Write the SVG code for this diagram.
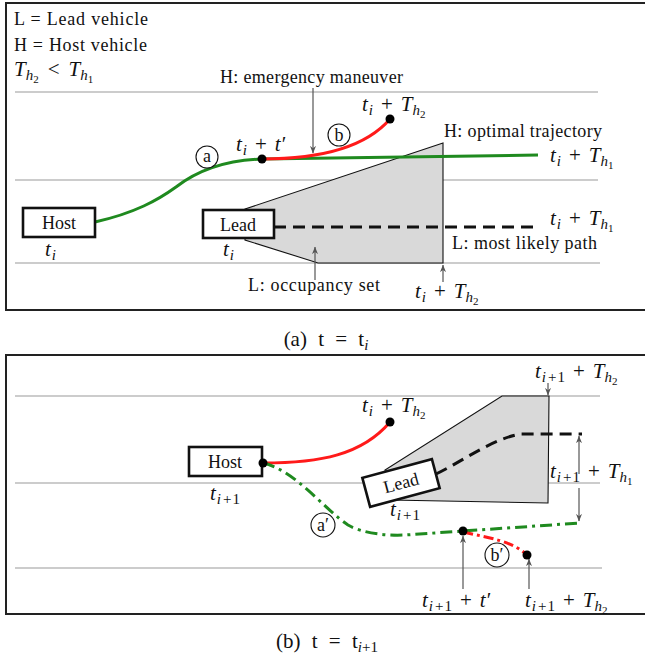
<svg xmlns="http://www.w3.org/2000/svg" width="645" height="660" viewBox="0 0 645 660">
<style>
.bg{fill:#fff}
.frame{fill:none;stroke:#222;stroke-width:2}
.lane{stroke:#9a9a9a;stroke-width:1.2;fill:none}
.occ{fill:#d9d9d9;stroke:#111;stroke-width:1.1}
.box{fill:#fff;stroke:#111;stroke-width:2.6}
.txt{font-family:"Liberation Serif","Times New Roman",serif;font-size:18px;fill:#111}
.m{font-family:"Liberation Serif","Times New Roman",serif;font-size:21px;fill:#111}
.i{font-style:italic}
.s{font-size:15px}
.ss{font-size:11px}
.cap{font-family:"Liberation Serif","Times New Roman",serif;font-size:21px;fill:#111;word-spacing:6px}
.green{fill:none;stroke:#1f8a1f;stroke-width:3}
.red{fill:none;stroke:#ff1a1a;stroke-width:3}
.gdash{fill:none;stroke:#1f8a1f;stroke-width:3;stroke-dasharray:12 5 3 5}
.rdash{fill:none;stroke:#ff1a1a;stroke-width:3;stroke-dasharray:10 4 3 4}
.bdash{fill:none;stroke:#111;stroke-width:3;stroke-dasharray:12 7}
.arrow{stroke:#555;stroke-width:1.2;fill:none;marker-end:url(#ah)}
.dot{fill:#000}
.circ{fill:#fff;stroke:#111;stroke-width:1.1}
</style>
<defs>
<marker id="ah" viewBox="0 0 10 8" refX="9.5" refY="4" markerWidth="8" markerHeight="6" markerUnits="userSpaceOnUse" orient="auto">
<path d="M0,0 L10,4 L0,8 L3,4 z" fill="#555"/>
</marker>
</defs>
<rect class="bg" x="0" y="0" width="645" height="660"/>

<!-- Panel (a) -->
<g id="panel-a">
<rect class="frame" x="6" y="3" width="650" height="307"/>
<line class="lane" x1="15" y1="92" x2="598" y2="92"/>
<line class="lane" x1="15" y1="180" x2="598" y2="180"/>
<line class="lane" x1="15" y1="263" x2="600" y2="263"/>
</g>

<g id="legend">
<text class="txt" x="14" y="25" textLength="134" lengthAdjust="spacing">L = Lead vehicle</text>
<text class="txt" x="14" y="51" textLength="133" lengthAdjust="spacing">H = Host vehicle</text>
<text class="m" x="14" y="76"><tspan class="i">T</tspan><tspan class="i s" dy="4">h</tspan><tspan class="ss" dy="3">2</tspan><tspan dx="9" dy="-7">&lt;</tspan><tspan class="i" dx="9">T</tspan><tspan class="i s" dy="4">h</tspan><tspan class="ss" dy="3">1</tspan></text>
</g>

<g id="occupancy-a">
<polygon class="occ" points="245,209 443,143 443,263 318,263 245,240"/>
</g>

<g id="connectors-a">
<path id="optimal-a" class="green" d="M95,222 C135,213 158,200 176,187 C198,170 228,160 262,159 L538,155"/>
<path id="emergency-a" class="red" d="M262,159 C320,159 365,148 390,119"/>
<path id="lead-path-a" class="bdash" d="M274,227 L538,227"/>
<line class="arrow" x1="313" y1="88" x2="313" y2="153"/>
<line class="arrow" x1="315" y1="280" x2="315" y2="247"/>
<line class="arrow" x1="443" y1="282" x2="443" y2="265"/>
</g>

<g id="host-a">
<rect class="box" x="23" y="208" width="72" height="29"/>
<text class="txt" x="59" y="229" text-anchor="middle">Host</text>
<text class="m" x="45" y="256"><tspan class="i">t</tspan><tspan class="i s" dx="1" dy="4">i</tspan></text>
</g>

<g id="lead-a">
<rect class="box" x="203" y="210" width="71" height="28"/>
<text class="txt" x="238" y="231" text-anchor="middle">Lead</text>
<text class="m" x="223" y="256"><tspan class="i">t</tspan><tspan class="i s" dx="1" dy="4">i</tspan></text>
</g>

<g id="points-a">
<circle class="dot" cx="262" cy="159" r="4.5"/>
<circle class="dot" cx="390" cy="119" r="4.5"/>
<circle class="circ" cx="207" cy="157" r="11"/>
<text class="txt" x="207" y="162" text-anchor="middle" font-size="16">a</text>
<circle class="circ" cx="339" cy="135" r="11"/>
<text class="txt" x="339" y="141" text-anchor="middle" font-size="16">b</text>
</g>

<g id="labels-a">
<text class="txt" x="220" y="83" textLength="183" lengthAdjust="spacing">H: emergency maneuver</text>
<text class="txt" x="444" y="137" textLength="158" lengthAdjust="spacing">H: optimal trajectory</text>
<text class="txt" x="452" y="249" textLength="145" lengthAdjust="spacing">L: most likely path</text>
<text class="txt" x="248" y="291" textLength="132" lengthAdjust="spacing">L: occupancy set</text>
<text class="m" x="236" y="151"><tspan class="i">t</tspan><tspan class="i s" dx="1" dy="4">i</tspan><tspan dx="8" dy="-4">+</tspan><tspan class="i" dx="8">t</tspan><tspan dx="1">′</tspan></text>
<text class="m" x="362" y="111"><tspan class="i">t</tspan><tspan class="i s" dx="1" dy="4">i</tspan><tspan dx="8" dy="-4">+</tspan><tspan class="i" dx="8">T</tspan><tspan class="i s" dy="4">h</tspan><tspan class="ss" dy="3">2</tspan></text>
<text class="m" x="550" y="162"><tspan class="i">t</tspan><tspan class="i s" dx="1" dy="4">i</tspan><tspan dx="8" dy="-4">+</tspan><tspan class="i" dx="8">T</tspan><tspan class="i s" dy="4">h</tspan><tspan class="ss" dy="3">1</tspan></text>
<text class="m" x="550" y="225"><tspan class="i">t</tspan><tspan class="i s" dx="1" dy="4">i</tspan><tspan dx="8" dy="-4">+</tspan><tspan class="i" dx="8">T</tspan><tspan class="i s" dy="4">h</tspan><tspan class="ss" dy="3">1</tspan></text>
<text class="m" x="415" y="298"><tspan class="i">t</tspan><tspan class="i s" dx="1" dy="4">i</tspan><tspan dx="8" dy="-4">+</tspan><tspan class="i" dx="8">T</tspan><tspan class="i s" dy="4">h</tspan><tspan class="ss" dy="3">2</tspan></text>
</g>

<text id="caption-a" class="cap" x="326" y="346" text-anchor="middle">(a) t = t<tspan class="i" font-size="15" dy="4">i</tspan></text>

<!-- Panel (b) -->
<g id="panel-b">
<rect class="frame" x="6" y="355" width="650" height="259"/>
<line class="lane" x1="15" y1="396" x2="600" y2="396"/>
<line class="lane" x1="15" y1="483" x2="600" y2="483"/>
<line class="lane" x1="15" y1="568" x2="602" y2="568"/>
</g>

<g id="occupancy-b">
<polygon class="occ" points="502,396 549,396 548,503 390,500 385,470"/>
</g>

<g id="connectors-b">
<path id="emergency-old-b" class="red" d="M263,463 C320,463 362,455 390,422"/>
<path id="optimal-b" class="gdash" d="M263,463 C295,470 325,510 348,525 C362,533 385,536 405,535 L580,523"/>
<path id="emergency-b" class="rdash" d="M463,532 C490,538 512,541 527,555"/>
<path id="lead-path-b" class="bdash" d="M436,474 C465,460 490,440 520,434 L582,434"/>
<line class="arrow" x1="548" y1="383" x2="548" y2="395"/>
<line class="arrow" x1="579" y1="474" x2="579" y2="436"/>
<line class="arrow" x1="579" y1="488" x2="579" y2="521"/>
<line class="arrow" x1="463" y1="589" x2="463" y2="536"/>
<line class="arrow" x1="529" y1="589" x2="529" y2="559"/>
</g>

<g id="host-b">
<rect class="box" x="189" y="447" width="73" height="29"/>
<text class="txt" x="225" y="468" text-anchor="middle">Host</text>
<text class="m" x="210" y="500"><tspan class="i">t</tspan><tspan class="s" dx="1" dy="4"><tspan class="i">i</tspan><tspan dx="2">+</tspan><tspan dx="1">1</tspan></tspan></text>
</g>

<g id="lead-b">
<g transform="translate(401,483) rotate(-15)">
<rect class="box" x="-36" y="-15" width="72" height="30"/>
<text class="txt" x="0" y="6" text-anchor="middle">Lead</text>
</g>
<text class="m" x="390" y="516"><tspan class="i">t</tspan><tspan class="s" dx="1" dy="4"><tspan class="i">i</tspan><tspan dx="2">+</tspan><tspan dx="1">1</tspan></tspan></text>
</g>

<g id="points-b">
<circle class="dot" cx="263" cy="463" r="4.5"/>
<circle class="dot" cx="390" cy="422" r="4.5"/>
<circle class="dot" cx="463" cy="531" r="4.5"/>
<circle class="dot" cx="527" cy="555" r="4.5"/>
<circle class="circ" cx="323" cy="525" r="12"/>
<text class="txt" x="323" y="531" text-anchor="middle" font-size="16">a′</text>
<circle class="circ" cx="497" cy="555" r="12"/>
<text class="txt" x="497" y="561" text-anchor="middle" font-size="16">b′</text>
</g>

<g id="labels-b">
<text class="m" x="362" y="412"><tspan class="i">t</tspan><tspan class="i s" dx="1" dy="4">i</tspan><tspan dx="8" dy="-4">+</tspan><tspan class="i" dx="8">T</tspan><tspan class="i s" dy="4">h</tspan><tspan class="ss" dy="3">2</tspan></text>
<text class="m" x="535" y="378"><tspan class="i">t</tspan><tspan class="s" dx="1" dy="4"><tspan class="i">i</tspan><tspan dx="2">+</tspan><tspan dx="1">1</tspan></tspan><tspan dx="8" dy="-4">+</tspan><tspan class="i" dx="8">T</tspan><tspan class="i s" dy="4">h</tspan><tspan class="ss" dy="3">2</tspan></text>
<text class="m" x="550" y="478"><tspan class="i">t</tspan><tspan class="s" dx="1" dy="4"><tspan class="i">i</tspan><tspan dx="2">+</tspan><tspan dx="1">1</tspan></tspan><tspan dx="8" dy="-4">+</tspan><tspan class="i" dx="8">T</tspan><tspan class="i s" dy="4">h</tspan><tspan class="ss" dy="3">1</tspan></text>
<text class="m" x="422" y="607"><tspan class="i">t</tspan><tspan class="s" dx="1" dy="4"><tspan class="i">i</tspan><tspan dx="2">+</tspan><tspan dx="1">1</tspan></tspan><tspan dx="8" dy="-4">+</tspan><tspan class="i" dx="8">t</tspan><tspan dx="1">′</tspan></text>
<text class="m" x="525" y="607"><tspan class="i">t</tspan><tspan class="s" dx="1" dy="4"><tspan class="i">i</tspan><tspan dx="2">+</tspan><tspan dx="1">1</tspan></tspan><tspan dx="8" dy="-4">+</tspan><tspan class="i" dx="8">T</tspan><tspan class="i s" dy="4">h</tspan><tspan class="ss" dy="3">2</tspan></text>
</g>

<text id="caption-b" class="cap" x="327" y="648" text-anchor="middle">(b) t = t<tspan class="i" font-size="15" dy="4">i</tspan><tspan font-size="15">+1</tspan></text>
</svg>
